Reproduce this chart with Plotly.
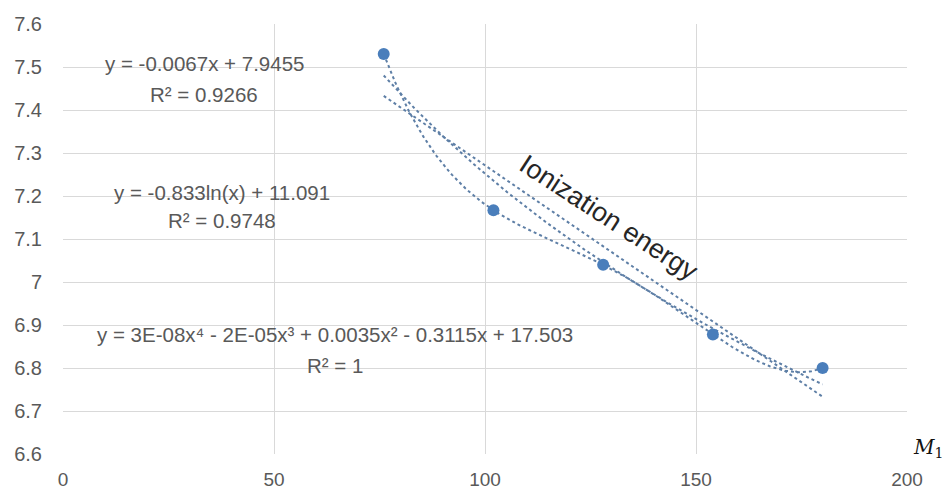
import numpy as np
import plotly.graph_objects as go

# ---- data ----
m_values = [76, 102, 128, 154, 180]
ionization_energy = [7.53, 7.167, 7.04, 6.878, 6.80]

x_ticks = [0, 50, 100, 150, 200]
x_tick_labels = ["0", "50", "100", "150", "200"]
y_ticks = [6.6, 6.7, 6.8, 6.9, 7.0, 7.1, 7.2, 7.3, 7.4, 7.5, 7.6]
y_tick_labels = ["6.6", "6.7", "6.8", "6.9", "7", "7.1", "7.2", "7.3", "7.4", "7.5", "7.6"]

eq_linear = ["y = -0.0067x + 7.9455", "R² = 0.9266"]
eq_log = ["y = -0.833ln(x) + 11.091", "R² = 0.9748"]
eq_poly = ["y = 3E-08x⁴ - 2E-05x³ + 0.0035x² - 0.3115x + 17.503", "R² = 1"]
series_label = "Ionization energy"
axis_label = "<i>M</i><sub>1</sub>"

# ---- trend lines fitted to the data (as the chart's trendlines) ----
xs = np.array(m_values, dtype=float)
ys = np.array(ionization_energy, dtype=float)
xf = np.linspace(xs.min(), xs.max(), 200)
lin = np.polyfit(xs, ys, 1)
logc = np.polyfit(np.log(xs), ys, 1)
poly = np.polyfit(xs, ys, 4)

line_col = "#5E7FA6"
fig = go.Figure()
fig.add_trace(go.Scatter(x=xf, y=np.polyval(lin, xf), mode="lines",
                         line=dict(color=line_col, width=2, dash="dot"), hoverinfo="skip"))
fig.add_trace(go.Scatter(x=xf, y=np.polyval(logc, np.log(xf)), mode="lines",
                         line=dict(color=line_col, width=2, dash="dot"), hoverinfo="skip"))
fig.add_trace(go.Scatter(x=xf, y=np.polyval(poly, xf), mode="lines",
                         line=dict(color=line_col, width=2, dash="dot"), hoverinfo="skip"))
fig.add_trace(go.Scatter(x=m_values, y=ionization_energy, mode="markers",
                         marker=dict(color="#4A7EBB", size=12), name=series_label))

txt_font = dict(family="Liberation Sans", size=20.5, color="#595959")

def add_eq(lines, x, y1, y2):
    fig.add_annotation(x=x, y=y1, xref="x", yref="y", text=lines[0], showarrow=False,
                       font=txt_font, xanchor="center", yanchor="middle")
    fig.add_annotation(x=x, y=y2, xref="x", yref="y", text=lines[1], showarrow=False,
                       font=txt_font, xanchor="center", yanchor="middle")

add_eq(eq_linear, 33.5, 7.507, 7.435)
add_eq(eq_log, 37.7, 7.207, 7.142)
add_eq(eq_poly, 64.5, 6.877, 6.805)

fig.add_annotation(x=129.5, y=7.15, xref="x", yref="y", text=series_label, showarrow=False,
                   textangle=33, font=dict(family="Liberation Sans", size=27, color="#262626"))

fig.add_annotation(x=1.005, y=0.015, xref="paper", yref="paper", text=axis_label,
                   showarrow=False, xanchor="left", yanchor="middle",
                   font=dict(family="DejaVu Serif", size=20, color="#111111"))

fig.update_layout(
    width=946, height=492,
    margin=dict(l=63, r=39, t=24, b=38, autoexpand=False),
    paper_bgcolor="white", plot_bgcolor="white",
    showlegend=False,
    xaxis=dict(range=[0, 200], tickvals=x_ticks, ticktext=x_tick_labels, automargin=False,
               showgrid=True, gridcolor="#D9D9D9", gridwidth=1, zeroline=False,
               showline=False, ticks="outside", ticklen=8, tickcolor="rgba(0,0,0,0)",
               tickfont=dict(family="Liberation Sans", size=19, color="#595959")),
    yaxis=dict(range=[6.6, 7.6], tickvals=y_ticks, ticktext=y_tick_labels, automargin=False,
               showgrid=True, gridcolor="#D9D9D9", gridwidth=1, zeroline=False,
               showline=False, ticks="outside", ticklen=16, tickcolor="rgba(0,0,0,0)",
               tickfont=dict(family="Liberation Sans", size=20, color="#595959")),
)

fig.write_html("out.html", config={"displayModeBar": False},
               post_script="document.body.style.margin='0';document.body.style.padding='0';"
                           "document.body.style.overflow='hidden';")
